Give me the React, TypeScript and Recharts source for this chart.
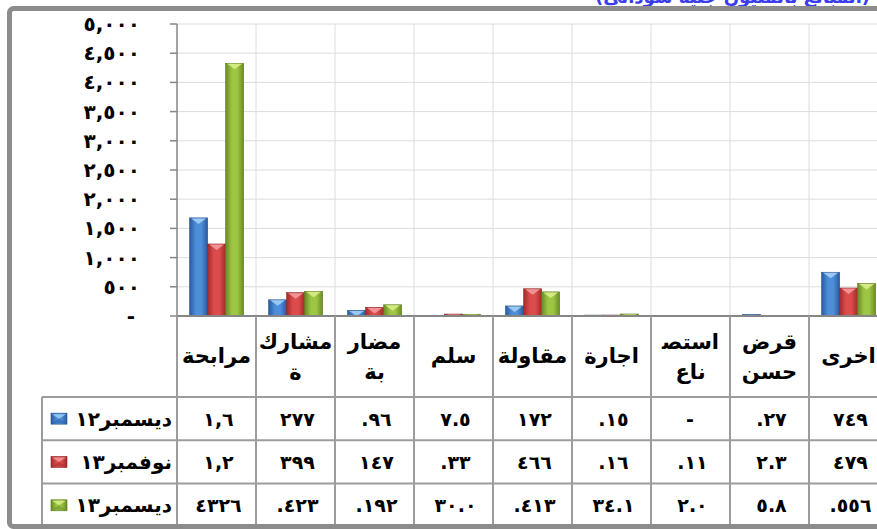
import { BarChart, Bar, XAxis, YAxis, CartesianGrid } from "recharts";

const categories = ["مرابحة", "مشاركة", "مضاربة", "سلم", "مقاولة", "اجارة", "استصناع", "قرض حسن", "اخرى"];
// how each category name is wrapped in the table header
const categoryLines = [
  ["مرابحة"],
  ["مشارك", "ة"],
  ["مضار", "بة"],
  ["سلم"],
  ["مقاولة"],
  ["اجارة"],
  ["استص\u200d", "ناع"],
  ["قرض", "حسن"],
  ["اخرى"],
];

const seriesNames = ["ديسمبر١٢", "نوفمبر١٣", "ديسمبر١٣"];

const dec12 = [1680, 277, 96, 7.5, 172, 15, 0, 27, 749];
const nov13 = [1233, 399, 147, 33, 466, 16, 11, 2.3, 479];
const dec13 = [4326, 423, 192, 30, 413, 34.1, 2.0, 5.8, 556];

const dec12Labels = ["١,٦", "٢٧٧", ".٩٦", "٧.٥", "١٧٢", ".١٥", "-", ".٢٧", "٧٤٩"];
const nov13Labels = ["١,٢", "٣٩٩", "١٤٧", ".٣٣", "٤٦٦", ".١٦", ".١١", "٢.٣", "٤٧٩"];
const dec13Labels = ["٤٣٢٦", ".٤٢٣", ".١٩٢", "٣٠.٠", ".٤١٣", "٣٤.١", "٢.٠", "٥.٨", ".٥٥٦"];

const yTicks = [0, 500, 1000, 1500, 2000, 2500, 3000, 3500, 4000, 4500, 5000];
const yTickLabels = ["-", "٥٠٠", "١,٠٠٠", "١,٥٠٠", "٢,٠٠٠", "٢,٥٠٠", "٣,٠٠٠", "٣,٥٠٠", "٤,٠٠٠", "٤,٥٠٠", "٥,٠٠٠"];

const seriesKeys = ["dec12", "nov13", "dec13"];
const tableLabels = [dec12Labels, nov13Labels, dec13Labels];

const data = categories.map((name, i) => ({
  name,
  dec12: dec12[i],
  nov13: nov13[i],
  dec13: dec13[i],
}));

// layout
const CHART_W = 890;
const CHART_H = 529;
const PLOT_LEFT = 177;
const PLOT_RIGHT = 888;
const PLOT_BOTTOM = 316;
const TABLE_LEFT = 42;
const ROW_LINES = [397, 440.3, 483.6, 527];
const FONT = "'DejaVu Sans', sans-serif";
const LINE = "#9c9c9c";

const palette: Record<string, { dark: string; mid: string; light: string; edge: string }> = {
  dec12: { dark: "#2a5b9e", mid: "#4c8ed9", light: "#a8d2f7", edge: "#23518e" },
  nov13: { dark: "#a32a2a", mid: "#dc4c4c", light: "#f6a0a0", edge: "#8c2222" },
  dec13: { dark: "#6a8a24", mid: "#9dc644", light: "#dcf08c", edge: "#5a781d" },
};

function Gradients() {
  return (
    <svg width={0} height={0} style={{ position: "absolute" }}>
      <defs>
        {seriesKeys.map((k) => (
          <linearGradient key={k} id={`grad-${k}`} x1="0" y1="0" x2="1" y2="0">
            <stop offset="0%" stopColor={palette[k].dark} />
            <stop offset="35%" stopColor={palette[k].mid} />
            <stop offset="65%" stopColor={palette[k].mid} />
            <stop offset="100%" stopColor={palette[k].dark} />
          </linearGradient>
        ))}
      </defs>
    </svg>
  );
}

function BevelBar(props: any) {
  const { x, y, width, height, seriesKey } = props;
  if (!height || height <= 0) return null;
  const c = palette[seriesKey];
  const cap = Math.min(6, height);
  return (
    <g>
      <rect x={x} y={y} width={width} height={height} fill={`url(#grad-${seriesKey})`} stroke={c.edge} strokeWidth={0.6} />
      <polygon
        points={`${x + 1.5},${y + 0.5} ${x + width - 1.5},${y + 0.5} ${x + width / 2},${y + cap}`}
        fill={c.light}
        opacity={0.85}
      />
    </g>
  );
}

function LegendKey({ x, y, k }: { x: number; y: number; k: string }) {
  const c = palette[k];
  const w = 16;
  const h = 11;
  return (
    <g>
      <rect x={x} y={y} width={w} height={h} fill={`url(#grad-${k})`} stroke={c.edge} strokeWidth={0.6} />
      <polygon points={`${x + 1},${y + 1} ${x + w - 1},${y + 1} ${x + w / 2},${y + h / 2}`} fill={c.light} opacity={0.8} />
      <polygon points={`${x + 1},${y + h - 1} ${x + w - 1},${y + h - 1} ${x + w / 2},${y + h / 2}`} fill={c.dark} opacity={0.5} />
    </g>
  );
}

function YTick(props: any) {
  const { y, index } = props;
  return (
    <text x={140} y={y + 7} textAnchor="end" fontFamily={FONT} fontWeight="bold" fontSize={20} letterSpacing={5} fill="#000">
      {yTickLabels[index]}
    </text>
  );
}

function TableTick(props: any) {
  const { x, index } = props;
  const colW = (PLOT_RIGHT - PLOT_LEFT) / categories.length;
  const left = x - colW / 2;
  const right = x + colW / 2;
  const lines = categoryLines[index];
  const lineYs = lines.length === 1 ? [363] : [349, 379];
  return (
    <g>
      {index === 0 && (
        <g>
          <line x1={left} y1={PLOT_BOTTOM} x2={left} y2={ROW_LINES[3]} stroke={LINE} strokeWidth={2} />
          <line x1={TABLE_LEFT} y1={ROW_LINES[0]} x2={TABLE_LEFT} y2={ROW_LINES[3]} stroke={LINE} strokeWidth={2} />
          {ROW_LINES.map((ly) => (
            <line key={ly} x1={TABLE_LEFT} y1={ly} x2={PLOT_RIGHT} y2={ly} stroke={LINE} strokeWidth={2} />
          ))}
          {seriesNames.map((s, r) => {
            const cy = (ROW_LINES[r] + ROW_LINES[r + 1]) / 2;
            return (
              <g key={s}>
                <LegendKey x={51} y={cy - 5.5} k={seriesKeys[r]} />
                <text x={172} y={cy + 7} textAnchor="end" fontFamily={FONT} fontWeight="bold" fontSize={20} fill="#000">
                  {s}
                </text>
              </g>
            );
          })}
        </g>
      )}
      <line x1={right} y1={PLOT_BOTTOM} x2={right} y2={ROW_LINES[3]} stroke={LINE} strokeWidth={2} />
      {lines.map((t, j) => (
        <text key={j} x={x} y={lineYs[j]} textAnchor="middle" fontFamily={FONT} fontWeight="bold" fontSize={21} fill="#000">
          {t}
        </text>
      ))}
      {tableLabels.map((labels, r) => {
        const cy = (ROW_LINES[r] + ROW_LINES[r + 1]) / 2;
        return (
          <text key={r} x={x + 2} y={cy + 7} textAnchor="middle" fontFamily={FONT} fontWeight="bold" fontSize={19} letterSpacing={5} fill="#000">
            {labels[index]}
          </text>
        );
      })}
    </g>
  );
}

function Frame() {
  return (
    <svg width={877} height={529} style={{ position: "absolute", left: 0, top: 0, pointerEvents: "none" }}>
      <text x={595} y={3} fontFamily={FONT} fontWeight="bold" fontSize={18} fill="#3b3bf0">
        (المبالغ بالمليون جنيه سوداني)
      </text>
      <rect x={9.5} y={8.5} width={900} height={518} rx={4} fill="none" stroke="#8c8c8c" strokeWidth={5} />
    </svg>
  );
}

export default function App() {
  const colW = (PLOT_RIGHT - PLOT_LEFT) / categories.length;
  return (
    <div style={{ position: "absolute", left: 0, top: 0, width: 877, height: 529, overflow: "hidden", background: "#fff" }}>
      <Gradients />
      <BarChart
        width={CHART_W}
        height={CHART_H}
        data={data}
        margin={{ top: 24, right: CHART_W - PLOT_RIGHT, bottom: 2, left: 0 }}
        barCategoryGap="16%"
        barGap={0}
      >
        <CartesianGrid
          stroke="#dcdcdc"
          verticalCoordinatesGenerator={({ offset }: any) =>
            categories.map((_, i) => offset.left + (i + 1) * colW)
          }
        />
        <YAxis
          width={PLOT_LEFT}
          domain={[0, 5000]}
          ticks={yTicks}
          interval={0}
          tickSize={7}
          axisLine={{ stroke: "#868686", strokeWidth: 1.5 }}
          tickLine={{ stroke: "#868686", strokeWidth: 1.5 }}
          tick={<YTick />}
        />
        <XAxis
          dataKey="name"
          height={211}
          interval={0}
          tickLine={false}
          axisLine={{ stroke: "#868686", strokeWidth: 2 }}
          tick={<TableTick />}
        />
        {seriesKeys.map((k, i) => (
          <Bar
            key={k}
            dataKey={k}
            name={seriesNames[i]}
            isAnimationActive={false}
            shape={(p: any) => <BevelBar {...p} seriesKey={k} />}
          />
        ))}
      </BarChart>
      <Frame />
    </div>
  );
}
